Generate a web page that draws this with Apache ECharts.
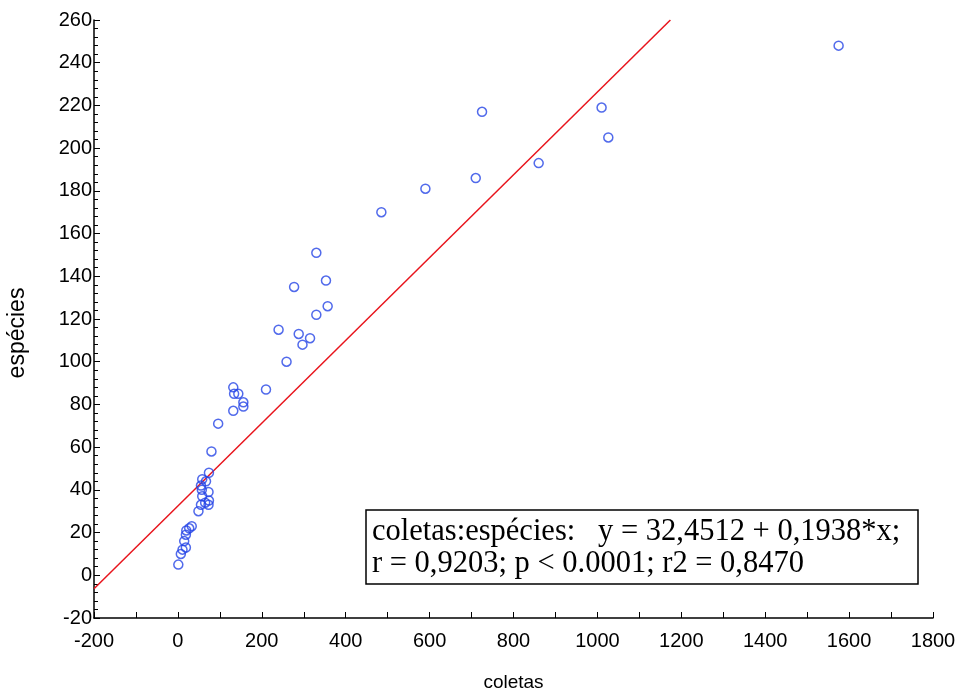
<!DOCTYPE html>
<html>
<head>
<meta charset="utf-8">
<script src="https://cdn.jsdelivr.net/npm/echarts@6/dist/echarts.min.js"></script>
<style>html,body{margin:0;padding:0;background:#fff;}#c{width:970px;height:693px;}</style>
</head>
<body>
<div id="c"></div>
<script>
// coletas (x) and espécies (y)
const coletas = [1575,1010,1026,725,860,710,590,485,
  330,353,277,357,330,240,288,315,297,259,210,132,134,144,156,156,132,96,80,
  74,58,67,55,57,73,58,74,65,73,55,49,33,27,20,19,15,19,11,7,1];
const especies = [248,219,205,217,193,186,181,170,
  151,138,135,126,122,115,113,111,108,100,87,88,85,85,81,79,77,71,58,
  48,45,44,42,40,39,37,35,34,33,33,30,23,22,21,19,16,13,12,10,5];
// regression line endpoints: y = 32,4512 + 0,1938*x
const fitX = [-200, 1174];
const fitY = [-6.3, 260];
const xTicks = [-200, 1800, 200];
const yTicks = [-20, 260, 20];
const statText1 = 'coletas:espécies:   y = 32,4512 + 0,1938*x;';
const statText2 = 'r = 0,9203; p < 0.0001; r2 = 0,8470';

const pts = coletas.map((v, i) => [v, especies[i]]);
const fit = fitX.map((v, i) => [v, fitY[i]]);

const chart = echarts.init(document.getElementById('c'));
const axisFont = {fontFamily: 'Liberation Sans', fontSize: 20, color: '#000'};
chart.setOption({
  animation: false,
  grid: {left: 94, right: 37, top: 20, bottom: 75, outerBoundsMode: 'none', containLabel: false},
  xAxis: {
    type: 'value', min: xTicks[0], max: xTicks[1], interval: xTicks[2],
    name: 'coletas', nameLocation: 'middle', nameGap: 55,
    nameTextStyle: {fontFamily: 'Liberation Sans', fontSize: 19, color: '#000'},
    axisLine: {onZero: false, lineStyle: {color: '#000', width: 1.5}},
    axisTick: {inside: true, length: 6, lineStyle: {color: '#000'}},
    minorTick: {show: true, splitNumber: 2, length: 6, lineStyle: {color: '#000'}},
    splitLine: {show: false},
    axisLabel: Object.assign({margin: 13, formatter: v => String(v)}, axisFont)
  },
  yAxis: {
    type: 'value', min: yTicks[0], max: yTicks[1], interval: yTicks[2],
    axisLine: {onZero: false, lineStyle: {color: '#000', width: 1.5}},
    axisTick: {inside: true, length: 6, lineStyle: {color: '#000'}},
    minorTick: {show: true, splitNumber: 5, length: 4, lineStyle: {color: '#000'}},
    splitLine: {show: false},
    axisLabel: Object.assign({margin: 2, formatter: v => String(v)}, axisFont)
  },
  series: [
    {
      type: 'line', data: fit, symbol: 'none', silent: true,
      lineStyle: {color: '#e8141c', width: 1.5}, z: 1
    },
    {
      type: 'scatter', data: pts, symbol: 'circle', symbolSize: 9,
      itemStyle: {color: 'rgba(0,0,0,0)', borderColor: '#2545e6', borderWidth: 1.5}, z: 2
    }
  ],
  graphic: [
    {type: 'text', x: 18, y: 333, rotation: Math.PI / 2,
      style: {text: 'espécies', font: '23px "Liberation Sans"', fill: '#000', textAlign: 'center', textVerticalAlign: 'middle'}},
    {type: 'rect', shape: {x: 366, y: 510, width: 552, height: 74},
      style: {fill: '#fff', stroke: '#000', lineWidth: 1.5}},
    {type: 'text', x: 372, y: 532, style: {text: statText1, font: '30.5px "Liberation Serif"', fill: '#000', textVerticalAlign: 'middle'}},
    {type: 'text', x: 372, y: 564, style: {text: statText2, font: '30.5px "Liberation Serif"', fill: '#000', textVerticalAlign: 'middle'}}
  ]
});
</script>
</body>
</html>
